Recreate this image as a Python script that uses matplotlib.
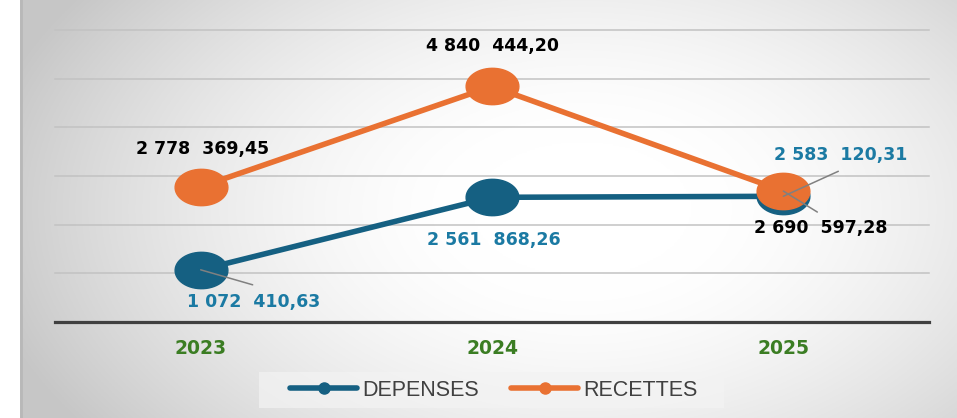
import numpy as np
import matplotlib
matplotlib.use('Agg')
import matplotlib.pyplot as plt
from matplotlib.path import Path
from matplotlib.lines import Line2D
from matplotlib.patches import Rectangle

years = ['2023', '2024', '2025']
depenses = [1072410.63, 2561868.26, 2583120.31]
recettes = [2778369.45, 4840444.20, 2690597.28]
series_names = ['DEPENSES', 'RECETTES']

BLUE = '#156082'
ORANGE = '#e97132'
BLUE_TXT = '#1b7aa3'
GREEN = '#3b7d23'

W, H = 957, 418


def fmt(v):
    s = f"{v:,.2f}".replace(',', ' ').replace('.', ',')
    head, tail = s.rsplit(' ', 1)
    return head + '  ' + tail


fig = plt.figure(figsize=(W / 100, H / 100), dpi=100)
fig.patch.set_facecolor('white')

# radial gradient background panel
bg = fig.add_axes([20 / W, 0, (W - 20) / W, 1], zorder=-2)
yy, xx = np.mgrid[0:1:300j, 0:1:600j]
r = np.sqrt(((xx - 0.6) / 0.65) ** 2 + ((yy - 0.5) / 0.9) ** 2)
r = np.clip((r - 0.18) / 0.82, 0, 1)
shade = 1.0 - 0.22 * r ** 1.6
bg.imshow(np.dstack([shade] * 3), aspect='auto', extent=[0, 1, 0, 1], origin='lower')
bg.axvline(0.001, color='#b8b8b8', lw=2)
bg.axis('off')

ax = fig.add_axes([55 / W, (H - 322) / H, (929 - 55) / W, (322 - 30) / H])
ax.patch.set_alpha(0)
ax.set_xlim(-0.5, 2.5)
ax.set_ylim(0, 6e6)
for s in ax.spines.values():
    s.set_visible(False)
for g in range(1, 7):
    ax.axhline(g * 1e6, color='#c2c2c2', lw=1.1, zorder=1, clip_on=False)
ax.axhline(0, color='#404040', lw=2.3, zorder=2, clip_on=False)
ax.set_yticks([])
ax.set_xticks(range(3))
ax.set_xticklabels(years, color=GREEN, fontsize=13.5, fontweight='bold')
ax.tick_params(axis='x', length=0, pad=12)

t = np.linspace(0, 2 * np.pi, 60)
ellipse = Path(np.column_stack([1.45 * np.cos(t), np.sin(t)]), closed=True)

x = np.arange(3)
ax.plot(x, depenses, color=BLUE, lw=4, marker=ellipse, markersize=38,
        zorder=3, clip_on=False)
ax.plot(x, recettes, color=ORANGE, lw=4, marker=ellipse, markersize=38,
        zorder=4, clip_on=False)

lab_kw = dict(textcoords='offset pixels', ha='center', va='center',
              fontsize=12.5, fontweight='bold', zorder=6)
rec_off = [(2, 38), (0, 40), (37, -37)]
dep_off = [(53, -32), (2, -43), (57, 41)]
for i in range(3):
    ax.annotate(fmt(recettes[i]), (i, recettes[i]), xytext=rec_off[i],
                color='black', **lab_kw)
    ax.annotate(fmt(depenses[i]), (i, depenses[i]), xytext=dep_off[i],
                color=BLUE_TXT, **lab_kw)

# leader lines
leaders = [(0, depenses[0], (52, -15)), (2, depenses[2], (55, 25)),
           (2, recettes[2], (34, -21))]
for i, v, off in leaders:
    ax.annotate('', (i, v), xytext=off, textcoords='offset pixels',
                arrowprops=dict(arrowstyle='-', color='#808080', lw=1.1,
                                shrinkA=0, shrinkB=0), zorder=7)

# legend
fig.patches.append(Rectangle((259 / W, (H - 408) / H), (724 - 259) / W, 36 / H,
                             transform=fig.transFigure, facecolor='#f3f3f3',
                             edgecolor='none', alpha=0.7, zorder=-1))
handles = [Line2D([], [], color=c, lw=4, marker='o', markersize=8,
                  solid_capstyle='round') for c in (BLUE, ORANGE)]
fig.legend(handles, series_names, loc='center', bbox_to_anchor=(494 / W, 1 - 390 / H),
           ncol=2, frameon=False, handlelength=3.1,
           handletextpad=0.25, columnspacing=1.5,
           prop={'family': 'Liberation Sans', 'size': 15.5}, labelcolor='#404040')

fig.savefig('out.png', dpi=100)
